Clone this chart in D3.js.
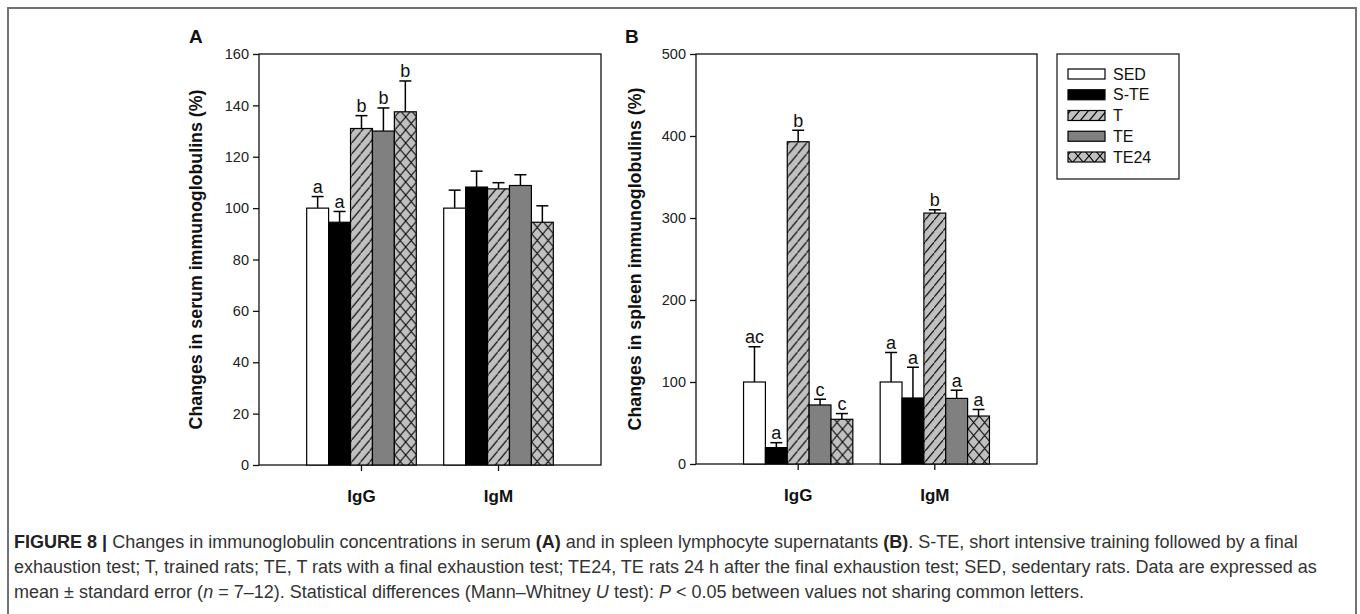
<!DOCTYPE html>
<html>
<head>
<meta charset="utf-8">
<script src="https://cdn.jsdelivr.net/npm/d3@7"></script>
<style>
  body { margin: 0; background: #fff; }
  svg { display: block; font-family: "Liberation Sans", Arial, sans-serif; }
</style>
</head>
<body>
<script>
// groups and isotypes
const groups = ["SED", "S-TE", "T", "TE", "TE24"];
const isotypes = ["IgG", "IgM"];

// serum immunoglobulins (% of SED), mean and SE
const serumIgG = [100, 94.5, 131, 130, 137.5];
const serumIgGSE = [4.5, 4.2, 5, 9, 12];
const serumIgM = [100, 108.2, 107.5, 108.8, 94.5];
const serumIgMSE = [7, 6.2, 2.4, 4.2, 6.4];
const serumIgGLetters = ["a", "a", "b", "b", "b"];
const serumIgMLetters = ["", "", "", "", ""];

// spleen lymphocyte supernatants (% of SED), mean and SE
const spleenIgG = [100, 20, 393, 72, 54.5];
const spleenIgGSE = [43, 6, 14, 7, 7];
const spleenIgM = [100, 80.5, 306, 80, 58.5];
const spleenIgMSE = [36, 37.5, 4, 10, 8];
const spleenIgGLetters = ["ac", "a", "b", "c", "c"];
const spleenIgMLetters = ["a", "a", "b", "a", "a"];

const serumTicks = d3.range(0, 161, 20);
const spleenTicks = d3.range(0, 501, 100);

const W = 1360, H = 614;
const svg = d3.select("body").append("svg").attr("width", W).attr("height", H);

// bar fills
const defs = svg.append("defs");
const hatch = defs.append("pattern").attr("id", "hatch")
  .attr("patternUnits", "userSpaceOnUse").attr("width", 9).attr("height", 11);
hatch.append("rect").attr("width", 9).attr("height", 11).attr("fill", "#c0c0c0");
hatch.append("path").attr("d", "M-1,12.2 L10,-1.2").attr("stroke", "#000").attr("stroke-width", 1.1);

const cross = defs.append("pattern").attr("id", "cross")
  .attr("patternUnits", "userSpaceOnUse").attr("width", 11).attr("height", 13);
cross.append("rect").attr("width", 11).attr("height", 13).attr("fill", "#c0c0c0");
cross.append("path").attr("d", "M0,0 L11,13 M0,13 L11,0").attr("stroke", "#000").attr("stroke-width", 1.1);

const fills = ["#ffffff", "#000000", "url(#hatch)", "#808080", "url(#cross)"];

// outer frame
svg.append("rect").attr("x", 8).attr("y", 8).attr("width", 1348).attr("height", 640)
  .attr("fill", "none").attr("stroke", "#727272").attr("stroke-width", 2);

function panel(opt) {
  const { left, right, top, bottom, yMax, ticks, means, ses, letters, title, tag, titleX } = opt;
  const g = svg.append("g");

  const y = d3.scaleLinear().domain([0, yMax]).range([bottom, top]);
  const x0 = d3.scaleBand().domain(isotypes).range([left, right])
    .paddingInner(0.2).paddingOuter(0.348);
  const x1 = d3.scaleBand().domain(groups).range([0, x0.bandwidth()]);

  // plot frame
  g.append("rect").attr("x", left).attr("y", top)
    .attr("width", right - left).attr("height", bottom - top)
    .attr("fill", "none").attr("stroke", "#111").attr("stroke-width", 1.3);

  isotypes.forEach((iso, k) => {
    const rows = groups.map((grp, i) => ({
      grp, i, v: means[k][i], se: ses[k][i], lab: letters[k][i]
    }));
    const gg = g.append("g").attr("transform", `translate(${x0(iso)},0)`);

    gg.selectAll("rect.bar").data(rows).join("rect")
      .attr("class", "bar")
      .attr("x", d => x1(d.grp))
      .attr("y", d => y(d.v))
      .attr("width", x1.bandwidth())
      .attr("height", d => y(0) - y(d.v))
      .attr("fill", d => fills[d.i])
      .attr("stroke", "#000").attr("stroke-width", 1.2);

    const cx = d => x1(d.grp) + x1.bandwidth() / 2;
    gg.selectAll("line.err").data(rows).join("line")
      .attr("class", "err")
      .attr("x1", cx).attr("x2", cx)
      .attr("y1", d => y(d.v)).attr("y2", d => y(d.v + d.se))
      .attr("stroke", "#000").attr("stroke-width", 1.5);
    gg.selectAll("line.cap").data(rows).join("line")
      .attr("class", "cap")
      .attr("x1", d => cx(d) - 6).attr("x2", d => cx(d) + 6)
      .attr("y1", d => y(d.v + d.se)).attr("y2", d => y(d.v + d.se))
      .attr("stroke", "#000").attr("stroke-width", 1.5);
    gg.selectAll("text.sig").data(rows).join("text")
      .attr("class", "sig")
      .attr("x", cx)
      .attr("y", d => y(d.v + d.se) - 3.5)
      .attr("text-anchor", "middle")
      .attr("font-size", 18).attr("fill", "#111")
      .text(d => d.lab);
  });

  // axes
  const ya = g.append("g").attr("transform", `translate(${left},0)`)
    .call(d3.axisLeft(y).tickValues(ticks).tickSize(6).tickPadding(4).tickSizeOuter(0));
  ya.select(".domain").remove();
  ya.selectAll("line").attr("stroke", "#111").attr("stroke-width", 1.3);
  ya.selectAll("text").attr("font-size", 14.5).attr("fill", "#222")
    .attr("font-family", "Liberation Sans, Arial, sans-serif");

  const xa = g.append("g").attr("transform", `translate(0,${bottom})`)
    .call(d3.axisBottom(x0).tickSize(6).tickPadding(19).tickSizeOuter(0));
  xa.select(".domain").remove();
  xa.selectAll("line").attr("stroke", "#111").attr("stroke-width", 1.3);
  xa.selectAll("text").attr("font-size", 17).attr("font-weight", "bold").attr("fill", "#111")
    .attr("font-family", "Liberation Sans, Arial, sans-serif");

  g.append("text")
    .attr("transform", `translate(${titleX},${(top + bottom) / 2}) rotate(-90)`)
    .attr("text-anchor", "middle").attr("dominant-baseline", "central")
    .attr("font-size", 17.8).attr("font-weight", "bold").attr("fill", "#111")
    .text(title);

  g.append("text").attr("x", tag[0]).attr("y", tag[1])
    .attr("font-size", 19).attr("font-weight", "bold").attr("fill", "#111")
    .text(tag[2]);
}

panel({
  left: 259, right: 601, top: 54, bottom: 465, yMax: 160, ticks: serumTicks,
  means: [serumIgG, serumIgM], ses: [serumIgGSE, serumIgMSE],
  letters: [serumIgGLetters, serumIgMLetters],
  title: "Changes in serum immunoglobulins (%)", titleX: 196, tag: [189, 43, "A"]
});

panel({
  left: 696, right: 1037, top: 54, bottom: 464, yMax: 500, ticks: spleenTicks,
  means: [spleenIgG, spleenIgM], ses: [spleenIgGSE, spleenIgMSE],
  letters: [spleenIgGLetters, spleenIgMLetters],
  title: "Changes in spleen immunoglobulins (%)", titleX: 635, tag: [625, 43, "B"]
});

// legend
const lg = svg.append("g");
lg.append("rect").attr("x", 1057).attr("y", 54).attr("width", 122).attr("height", 125)
  .attr("fill", "#fff").attr("stroke", "#222").attr("stroke-width", 1.3);
groups.forEach((grp, i) => {
  const cy = 74 + i * 20.75;
  lg.append("rect").attr("x", 1068).attr("y", cy - 5).attr("width", 37).attr("height", 10)
    .attr("fill", fills[i]).attr("stroke", "#000").attr("stroke-width", 1.2);
  lg.append("text").attr("x", 1113).attr("y", cy).attr("dominant-baseline", "central")
    .attr("font-size", 16).attr("fill", "#111").text(grp);
});

// caption
const capLines = [
  [["FIGURE 8 |", "b"], [" Changes in immunoglobulin concentrations in serum ", ""], ["(A)", "b"],
   [" and in spleen lymphocyte supernatants ", ""], ["(B)", "b"],
   [". S-TE, short intensive training followed by a final", ""]],
  [["exhaustion test; T, trained rats; TE, T rats with a final exhaustion test; TE24, TE rats 24 h after the final exhaustion test; SED, sedentary rats. Data are expressed as", ""]],
  [["mean \u00b1 standard error (", ""], ["n", "i"], [" = 7\u201312). Statistical differences (Mann\u2013Whitney ", ""],
   ["U", "i"], [" test): ", ""], ["P", "i"], [" < 0.05 between values not sharing common letters.", ""]]
];
const capY = [548, 573, 598];
const capText = capLines.map((parts, li) => {
  const t = svg.append("text").attr("x", 14).attr("y", capY[li])
    .attr("font-size", 15).attr("fill", "#333");
  parts.forEach(([s, st]) => {
    t.append("tspan").text(s)
      .attr("font-weight", st === "b" ? "bold" : null)
      .attr("font-style", st === "i" ? "italic" : null)
      .attr("fill", st === "b" ? "#222" : null);
  });
  return t;
});
// size the caption so the second line runs to the right margin
const w2 = capText[1].node().getComputedTextLength();
const fs = 15 * 1304 / w2;
capText.forEach(t => t.attr("font-size", fs));
</script>
</body>
</html>
